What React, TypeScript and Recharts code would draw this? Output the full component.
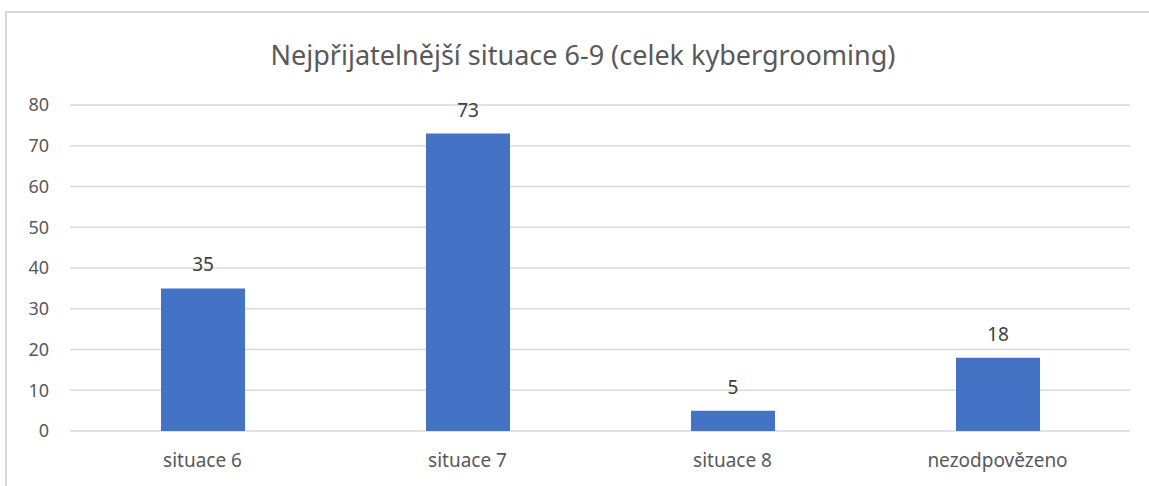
import { BarChart, Bar, XAxis, YAxis, CartesianGrid, LabelList } from 'recharts';

const categories = ['situace 6', 'situace 7', 'situace 8', 'nezodpovězeno'];
const counts = [35, 73, 5, 18];
const yTicks = [0, 10, 20, 30, 40, 50, 60, 70, 80];

const chartTitle = 'Nejpřijatelnější situace 6-9 (celek kybergrooming)';

const data = categories.map((name, i) => ({ name, value: counts[i] }));

const FONT = '"Noto Sans", "Open Sans", sans-serif';

export default function App() {
  return (
    <div
      style={{
        position: 'absolute',
        left: 0,
        top: 0,
        width: 1149,
        height: 486,
        overflow: 'hidden',
        background: '#fff',
        fontFamily: FONT,
      }}
    >
      {/* chart frame, only left and top edges visible */}
      <div
        style={{
          position: 'absolute',
          left: 5,
          top: 11,
          width: 1200,
          height: 600,
          border: '2px solid #d9d9d9',
        }}
      />
      <div
        style={{
          position: 'absolute',
          left: 0,
          width: 1166,
          top: 35,
          textAlign: 'center',
          fontSize: 27,
          color: '#595959',
          lineHeight: '40px',
        }}
      >
        {chartTitle}
      </div>
      <div style={{ position: 'absolute', left: 0, top: 0 }}>
        <BarChart
          width={1149}
          height={486}
          data={data}
          margin={{ top: 105, right: 19, bottom: 25, left: 0 }}
        >
          <CartesianGrid vertical={false} stroke="#d9d9d9" strokeWidth={1.5} />
          <XAxis
            dataKey="name"
            axisLine={false}
            tickLine={false}
            height={30}
            tick={{ fontSize: 19, fill: '#595959', fontFamily: FONT }}
            tickMargin={17}
          />
          <YAxis
            domain={[0, 80]}
            ticks={yTicks}
            axisLine={false}
            tickLine={false}
            width={70}
            tickSize={0}
            tickMargin={21}
            tick={{ fontSize: 18, fill: '#595959', fontFamily: FONT }}
          />
          <Bar dataKey="value" fill="#4472c4" barSize={84} isAnimationActive={false}>
            <LabelList
              dataKey="value"
              position="top"
              offset={17}
              style={{ fontSize: 19, fill: '#404040', fontFamily: FONT }}
            />
          </Bar>
        </BarChart>
      </div>
    </div>
  );
}
